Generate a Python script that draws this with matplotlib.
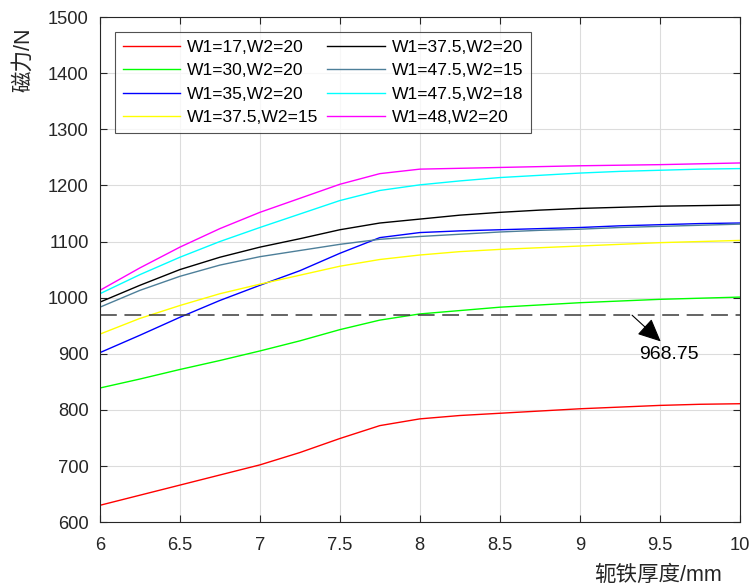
import numpy as np
import matplotlib.pyplot as plt

plt.rcParams['font.family'] = ['Liberation Sans', 'Noto Sans CJK SC', 'DejaVu Sans']

# 轭铁厚度 / mm
x = [6, 6.25, 6.5, 6.75, 7, 7.25, 7.5, 7.75, 8, 8.25, 8.5, 8.75, 9, 9.25, 9.5, 9.75, 10]

w17_20 = [630, 648, 666, 684, 702, 724, 749, 772, 784, 790, 794, 798, 802, 805, 808, 810, 811]
w30_20 = [839, 855, 872, 888, 905, 923, 943, 960, 971, 977, 983, 987, 991, 994, 997, 999, 1001]
w35_20 = [902, 933, 965, 995, 1022, 1048, 1079, 1107, 1116, 1119, 1121, 1123, 1125, 1128, 1130, 1132, 1133]
w375_15 = [935, 963, 986, 1007, 1024, 1040, 1056, 1068, 1076, 1082, 1086, 1089, 1092, 1095, 1098, 1100, 1102]
w375_20 = [992, 1022, 1050, 1072, 1090, 1105, 1121, 1133, 1140, 1147, 1152, 1156, 1159, 1161, 1163, 1164, 1165]
w475_15 = [983, 1013, 1038, 1058, 1073, 1084, 1095, 1104, 1109, 1113, 1117, 1120, 1122, 1125, 1127, 1129, 1131]
w475_18 = [1007, 1041, 1072, 1100, 1125, 1149, 1173, 1191, 1201, 1208, 1214, 1218, 1222, 1225, 1227, 1229, 1230]
w48_20 = [1013, 1053, 1090, 1123, 1152, 1177, 1202, 1221, 1229, 1230.5, 1232, 1233.5, 1235, 1236, 1237, 1238.5, 1240]

series = [
    (w17_20, '#ff0000', 'W1=17,W2=20'),
    (w30_20, '#00ff00', 'W1=30,W2=20'),
    (w35_20, '#0000ff', 'W1=35,W2=20'),
    (w375_15, '#ffff00', 'W1=37.5,W2=15'),
    (w375_20, '#000000', 'W1=37.5,W2=20'),
    (w475_15, '#4d7f99', 'W1=47.5,W2=15'),
    (w475_18, '#00ffff', 'W1=47.5,W2=18'),
    (w48_20, '#ff00ff', 'W1=48,W2=20'),
]

limit = 968.75

fig = plt.figure(figsize=(7.51, 5.88), dpi=100)
ax = fig.add_axes([0.133, 0.112, 0.852, 0.859])

for vals, c, lab in series:
    ax.plot(x, vals, color=c, lw=1.0, label=lab)

ax.axhline(limit, color='#3a3a3a', lw=1.1, dashes=(11, 5))

# 箭头 + 数值标注
ax.annotate('', xy=(9.506, 922), xytext=(9.327, limit),
            arrowprops=dict(arrowstyle='-|>,head_length=0.65,head_width=0.3',
                            color='k', lw=0.8, mutation_scale=22,
                            shrinkA=0, shrinkB=0))
ax.text(9.56, 898, '968.75', fontsize=14, ha='center', va='center')

ax.set_xlim(6, 10)
ax.set_ylim(600, 1500)
ax.set_xticks(np.arange(6, 10.01, 0.5))
ax.set_xticklabels(['6', '6.5', '7', '7.5', '8', '8.5', '9', '9.5', '10'])
ax.set_yticks(np.arange(600, 1501, 100))
ax.tick_params(direction='in', top=True, right=True, labelsize=13.2,
               length=5, width=0.8, colors='#262626')
ax.tick_params(axis='x', pad=11)
ax.tick_params(axis='y', pad=8)
for s in ax.spines.values():
    s.set_color('#262626')
    s.set_linewidth(0.8)
ax.grid(True, color='#dcdcdc', lw=0.8)
ax.set_axisbelow(True)

ax.set_xlabel('轭铁厚度/mm', fontsize=15.5, color='#262626')
ax.xaxis.set_label_coords(0.873, -0.085)
ax.set_ylabel('磁力/N', fontsize=15.5, color='#262626')
ax.yaxis.set_label_coords(-0.102, 0.915)

leg = ax.legend(ncol=2, loc='upper left', bbox_to_anchor=(0.024, 0.970),
                fontsize=12.6, frameon=True, fancybox=False, handlelength=3.3,
                columnspacing=0.5, labelspacing=0.47, borderpad=0.42,
                handletextpad=0.4, borderaxespad=0)
leg.get_frame().set_edgecolor('#262626')
leg.get_frame().set_linewidth(0.8)

fig.savefig('out.png', dpi=100)
